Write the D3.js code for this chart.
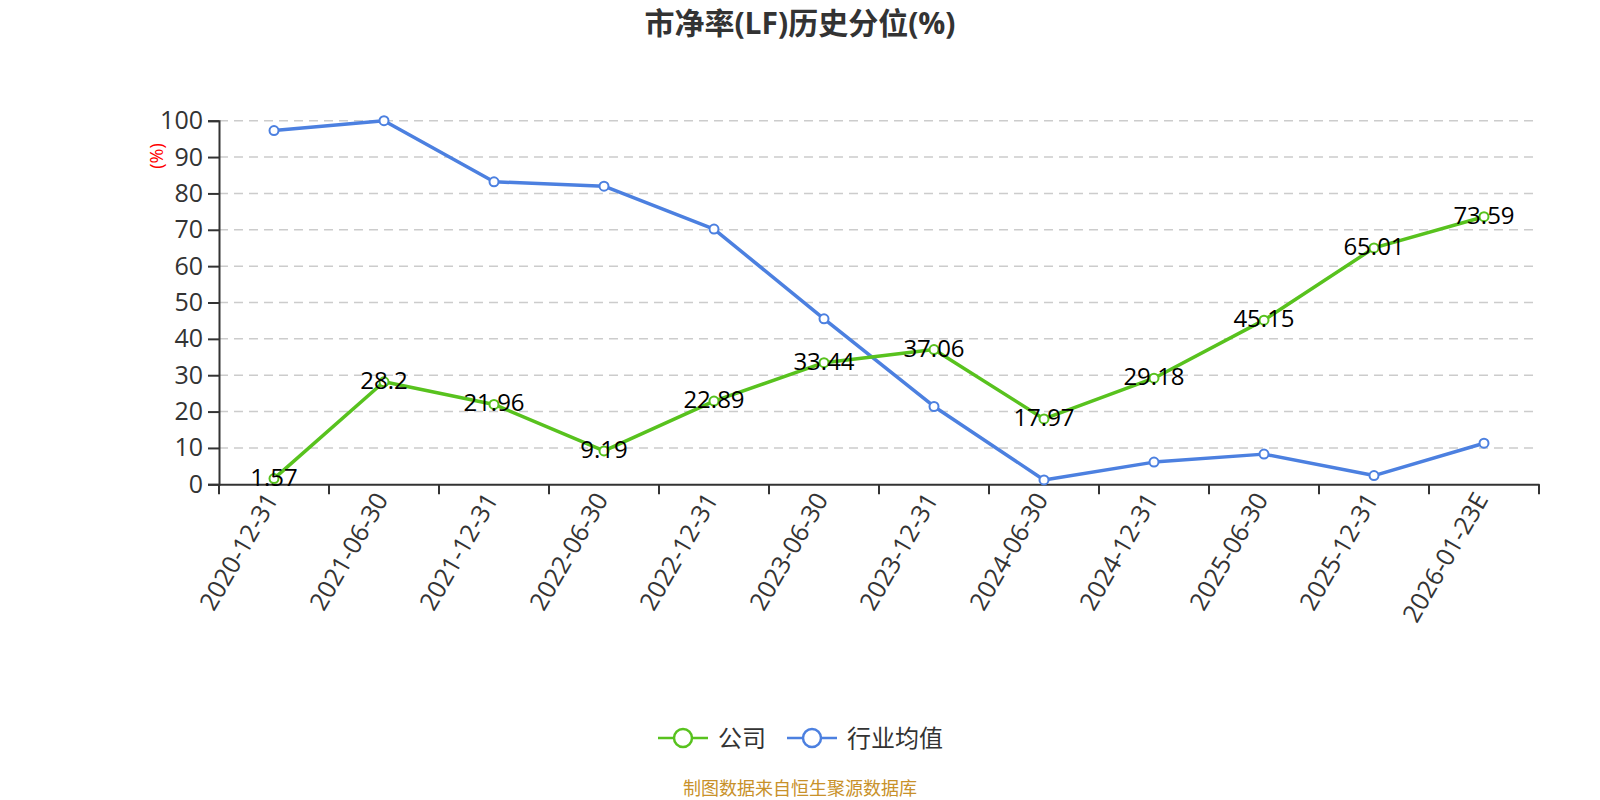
<!DOCTYPE html>
<html>
<head>
<meta charset="utf-8">
<script src="https://cdn.jsdelivr.net/npm/d3@7"></script>
<style>
  body { margin: 0; background: #fff; }
  svg { font-family: 'Open Sans', 'Noto Sans CJK SC', sans-serif; }
</style>
</head>
<body>
<div id="chart"></div>
<script>
const categories = ['2020-12-31', '2021-06-30', '2021-12-31', '2022-06-30', '2022-12-31', '2023-06-30',
  '2023-12-31', '2024-06-30', '2024-12-31', '2025-06-30', '2025-12-31', '2026-01-23E']
const companyValues = [1.57, 28.2, 21.96, 9.19, 22.89, 33.44, 37.06, 17.97, 29.18, 45.15, 65.01, 73.59]
const industryValues = [97.3, 100, 83.2, 82.0, 70.2, 45.5, 21.4, 1.2, 6.1, 8.3, 2.4, 11.3]
const yTicks = [0, 10, 20, 30, 40, 50, 60, 70, 80, 90, 100]
const seriesNames = ['公司', '行业均值']

const width = 1600
const height = 800
const margin = { top: 120.7, right: 61, bottom: 315.7, left: 219 }
const green = '#58c21e'
const blue = '#4c80e0'

const svg = d3.select('#chart')
  .append('svg')
  .attr('width', width)
  .attr('height', height)

const x = d3.scaleBand()
  .domain(categories)
  .range([margin.left, width - margin.right])

const y = d3.scaleLinear()
  .domain([0, 100])
  .range([height - margin.bottom, margin.top])

// title
svg.append('text')
  .attr('x', width / 2)
  .attr('y', 34)
  .attr('text-anchor', 'middle')
  .attr('style', 'font-size: 30px; font-weight: bold; fill: #333')
  .text('市净率(LF)历史分位(%)')

// grid lines
svg.append('g')
  .selectAll('line')
  .data(yTicks.filter(d => d > 0))
  .join('line')
  .attr('x1', margin.left)
  .attr('x2', width - margin.right)
  .attr('y1', d => y(d))
  .attr('y2', d => y(d))
  .attr('stroke', '#cccccc')
  .attr('stroke-width', 1.5)
  .attr('stroke-dasharray', '9,6')

// y axis
const yAxis = svg.append('g')
  .attr('transform', `translate(${margin.left},0)`)
  .call(d3.axisLeft(y).tickValues(yTicks).tickSize(11).tickPadding(5))
yAxis.select('.domain').attr('stroke', '#333').attr('stroke-width', 2)
yAxis.selectAll('.tick line').attr('stroke', '#333').attr('stroke-width', 2)
yAxis.selectAll('.tick text')
  .attr('style', 'font-size: 25px; fill: #333; font-family: Open Sans, sans-serif')

// y axis name
svg.append('text')
  .attr('transform', `translate(163,156) rotate(-90)`)
  .attr('text-anchor', 'middle')
  .attr('style', 'font-size: 18px; fill: #ff0000')
  .text('(%)')

// x axis
const xAxis = svg.append('g')
  .attr('transform', `translate(0,${y(0)})`)
  .call(d3.axisBottom(x).tickSize(0).tickPadding(0))
xAxis.select('.domain').attr('stroke', '#333').attr('stroke-width', 2)
xAxis.selectAll('.tick text')
  .attr('style', 'font-size: 25px; fill: #333; font-family: Open Sans, sans-serif')
  .attr('text-anchor', 'end')
  .attr('dy', 0)
  .attr('transform', 'translate(5,15) rotate(-60)')

// boundary ticks between bands
const bounds = categories.map(c => x(c)).concat([x(categories[categories.length - 1]) + x.bandwidth()])
xAxis.selectAll('.bound')
  .data(bounds)
  .join('line')
  .attr('class', 'bound')
  .attr('x1', d => d)
  .attr('x2', d => d)
  .attr('y1', 0)
  .attr('y2', 10)
  .attr('stroke', '#333')
  .attr('stroke-width', 2)

const cx = d => x(d) + x.bandwidth() / 2

function drawSeries(values, color, showLabels) {
  const pts = values.map((v, i) => [cx(categories[i]), y(v)])
  svg.append('path')
    .attr('d', d3.line()(pts))
    .attr('fill', 'none')
    .attr('stroke', color)
    .attr('stroke-width', 3.5)
    .attr('stroke-linejoin', 'round')

  svg.append('g')
    .selectAll('circle')
    .data(pts)
    .join('circle')
    .attr('cx', d => d[0])
    .attr('cy', d => d[1])
    .attr('r', 4.5)
    .attr('fill', '#fff')
    .attr('stroke', color)
    .attr('stroke-width', 2)

  if (showLabels) {
    svg.append('g')
      .selectAll('text')
      .data(values)
      .join('text')
      .attr('x', (d, i) => pts[i][0])
      .attr('y', (d, i) => pts[i][1] + 7)
      .attr('text-anchor', 'middle')
      .attr('style', 'font-size: 24px; fill: #000; font-family: Open Sans, sans-serif')
      .text(d => d)
  }
}

drawSeries(industryValues, blue, false)
drawSeries(companyValues, green, true)

// legend
const legendItems = [
  { name: seriesNames[0], color: green, x: 658 },
  { name: seriesNames[1], color: blue, x: 787 }
]
const legend = svg.append('g')
legendItems.forEach(item => {
  const g = legend.append('g').attr('transform', `translate(${item.x},738)`)
  g.append('line')
    .attr('x1', 0).attr('x2', 50)
    .attr('stroke', item.color).attr('stroke-width', 2.5)
  g.append('circle')
    .attr('cx', 25).attr('r', 9)
    .attr('fill', '#fff')
    .attr('stroke', item.color).attr('stroke-width', 2.5)
  g.append('text')
    .attr('x', 60)
    .attr('y', 9)
    .attr('style', 'font-size: 24px; fill: #333')
    .text(item.name)
})

// source note
svg.append('text')
  .attr('x', width / 2)
  .attr('y', 795)
  .attr('text-anchor', 'middle')
  .attr('style', 'font-size: 18px; fill: #c8912a')
  .text('制图数据来自恒生聚源数据库')
</script>
</body>
</html>
